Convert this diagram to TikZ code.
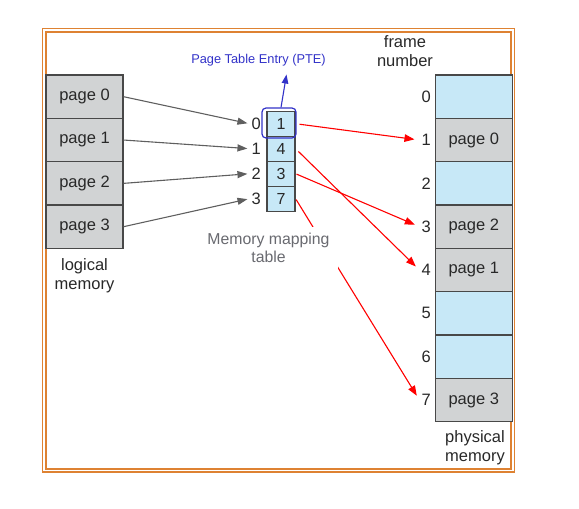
\documentclass[tikz,border=0pt]{standalone}
\usepackage{fontspec}
\setmainfont{Liberation Sans}
\usetikzlibrary{arrows.meta}
\definecolor{pagegray}{RGB}{209,211,212}
\definecolor{freeblue}{RGB}{199,232,247}
\definecolor{boxline}{RGB}{72,72,72}
\definecolor{arrowgray}{RGB}{95,95,95}
\definecolor{frameorange}{RGB}{222,130,50}
\definecolor{pteblue}{RGB}{50,50,200}
\definecolor{notegray}{RGB}{105,106,112}
\definecolor{textdark}{RGB}{40,40,40}
\newcommand{\bigfont}{\fontsize{16.5}{19}\selectfont}
\newcommand{\cellfont}{\fontsize{16}{18}\selectfont}
\tikzset{
  pagebox/.style={draw=boxline, line width=1.2pt, fill=pagegray, minimum width=77pt,
    minimum height=43.33pt, inner sep=0pt, font=\bigfont, text=textdark},
  freebox/.style={pagebox, fill=freeblue},
  cellbox/.style={draw=boxline, line width=1.2pt, fill=freeblue, minimum width=28pt,
    minimum height=25pt, inner sep=0pt, font=\cellfont, text=textdark},
  numlabel/.style={anchor=east, inner sep=2pt, font=\bigfont, text=textdark},
  caption/.style={align=center, font=\bigfont, text=textdark},
  maparrow/.style={draw=arrowgray, line width=1.1pt, -{Triangle[length=10pt,width=7pt]}},
  framearrow/.style={draw=red, line width=1.1pt, -{Triangle[length=10pt,width=7.5pt]}},
  ptebox/.style={draw=pteblue, line width=1.2pt, rounded corners=4pt, minimum width=34pt,
    minimum height=30pt, inner sep=0pt}
}
\begin{document}
\begin{tikzpicture}[x=1pt,y=-1pt]
  \useasboundingbox (0,0) rectangle (579,509);
  % outer frame
  \draw[frameorange, line width=1.6pt, double=white, double distance=1.6pt]
    (44.1,30.1) rectangle (512.8,470.3);

  % logical memory
  \foreach \p in {0,...,3}
    \node[pagebox] (lp\p) at (84.5,{96.7+43.33*\p}) {page \p};
  \node[caption] (logcap) at (84.5,276) {logical\\memory};

  % page table
  \foreach \i/\v in {0/1,1/4,2/3,3/7} {
    \node[cellbox] (t\i) at (281,{123.7+25*\i}) {\v};
    \node[numlabel] (i\i) at (263,{123.7+25*\i}) {\i};
  }
  \node[ptebox] (pte) at (279,123) {};
  \node[font=\fontsize{12.8}{15}\selectfont, text=pteblue] (ptelab) at (258.5,60)
    {Page Table Entry (PTE)};
  \draw[draw=pteblue, line width=1.1pt, -{Triangle[length=9pt,width=6.5pt]}]
    ([xshift=2pt]pte.north) -- ([xshift=28pt,yshift=-5pt]ptelab.south);

  % physical memory
  \foreach \f/\txt/\sty in {0//freebox,1/page 0/pagebox,2//freebox,3/page 2/pagebox,
      4/page 1/pagebox,5//freebox,6//freebox,7/page 3/pagebox} {
    \node[\sty] (pf\f) at (473.75,{96.7+43.33*\f}) {\txt};
    \node[numlabel] (f\f) at (433,{96.7+43.33*\f}) {\f};
  }
  \node[caption] (framecap) at (405,51.5) {frame\\number};
  \node[caption] (physcap) at (475,447.5) {physical\\memory};

  % page -> table index
  \foreach \p in {0,...,3}
    \draw[maparrow, shorten >=2pt] (lp\p.east) -- (i\p.west);

  % table -> frame
  \draw[framearrow, shorten <=4pt, shorten >=5pt] (t0.east) -- (f1.west);
  \draw[framearrow, shorten <=4pt, shorten >=5pt] (t1.east) -- (f4.west);
  \draw[framearrow, shorten <=1pt, shorten >=5pt] (t2.east) -- (f3.west);
  \draw[framearrow, shorten <=1pt, shorten >=5pt] (t3.east) -- (f7.west);

  \node[caption, font=\fontsize{15.8}{18.5}\selectfont, text=notegray, fill=white,
    inner xsep=8pt, inner ysep=6pt] (mapcap) at (268.5,248) {Memory mapping\\table};
\end{tikzpicture}
\end{document}
